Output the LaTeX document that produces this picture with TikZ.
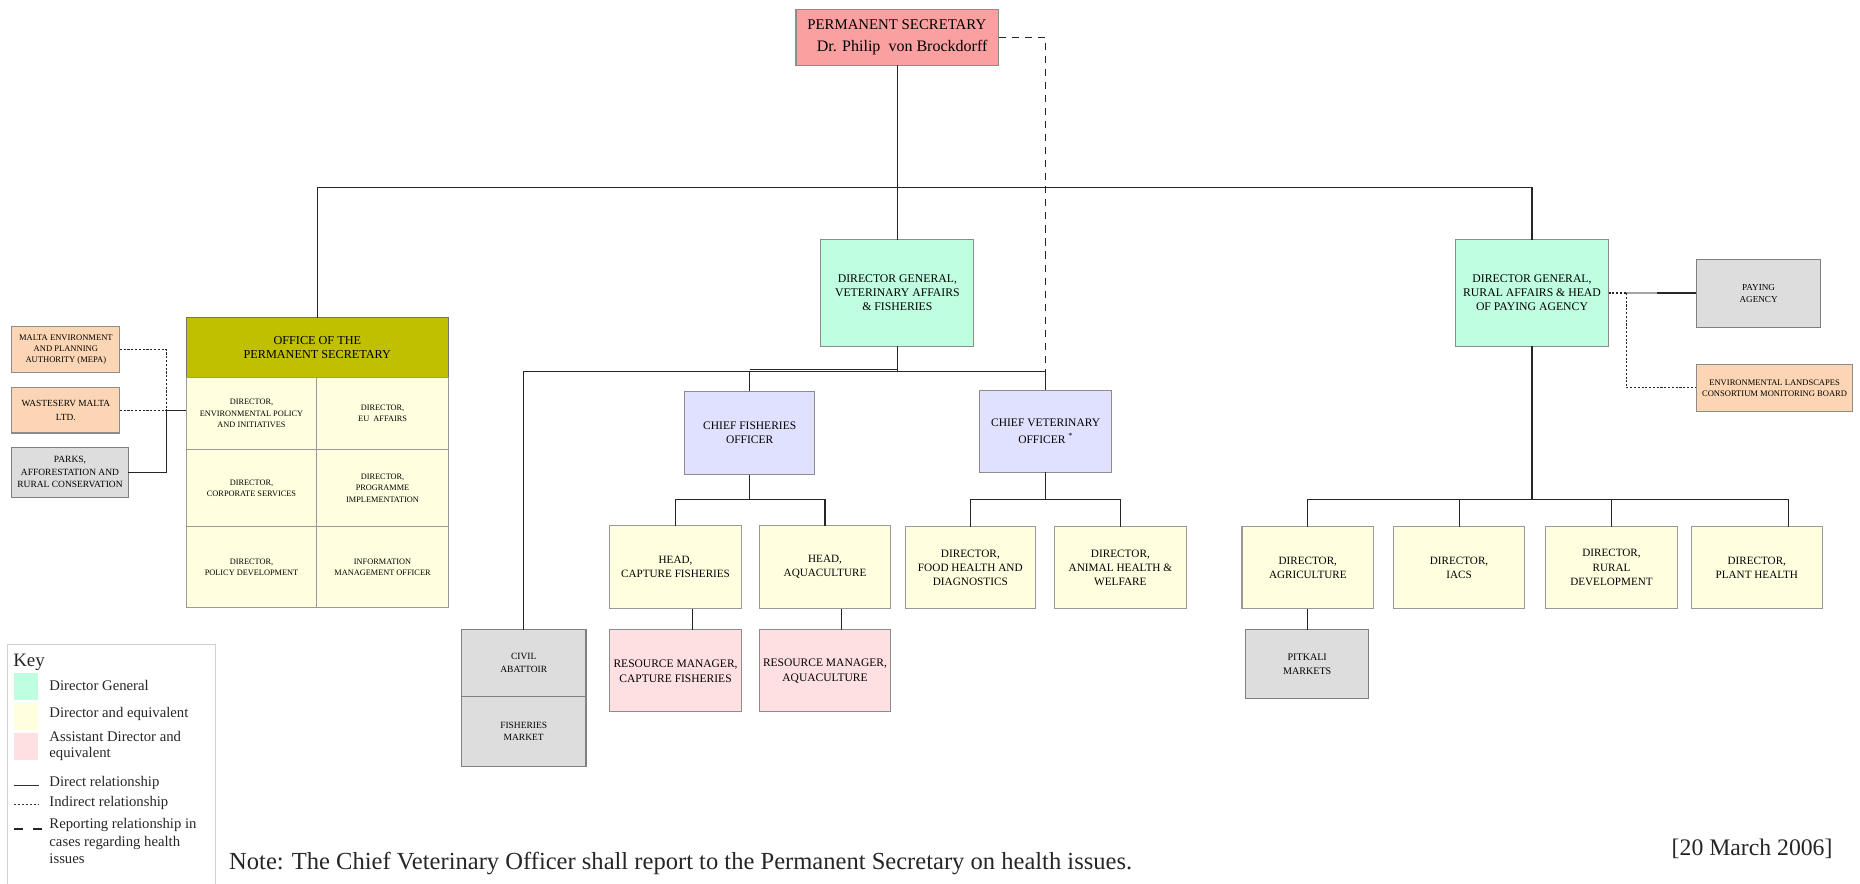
\documentclass[tikz,border=0pt]{standalone}
\usepackage{fontspec}
\setmainfont{Liberation Serif}
\definecolor{cps}{RGB}{251,160,160}
\definecolor{colive}{RGB}{192,192,0}
\definecolor{cmint}{RGB}{191,255,224}
\definecolor{clav}{RGB}{224,224,255}
\definecolor{ccream}{RGB}{255,255,224}
\definecolor{crm}{RGB}{255,224,226}
\definecolor{cpeach}{RGB}{252,214,180}
\definecolor{cgray}{RGB}{221,221,221}
\newcommand\fs[2]{\fontsize{#1}{#2}\selectfont}
\newcommand\bx[7]{\node[#2,minimum width={#5pt-#3pt},minimum height={#6pt-#4pt}] (#1) at (#3,#4) {#7};}
\begin{document}
\begin{tikzpicture}[x=1pt,y=-1pt,
  base/.style={anchor=north west,inner sep=0pt,outer sep=0pt,align=center,line width=0.9pt,draw=black!50,text=black},
  dg/.style={base,fill=cmint,draw=black!45,font=\fs{9.9}{11.7}},
  chief/.style={base,fill=clav,draw=black!45,font=\fs{9.7}{11.5}},
  dir/.style={base,fill=ccream,draw=black!40,font=\fs{9.5}{12}},
  rm/.style={base,fill=crm,draw=black!45,font=\fs{9.7}{12.7}},
  ext/.style={base,fill=cgray,draw=black!50,font=\fs{8}{10.5}},
  peach/.style={base,fill=cpeach,draw=black!45,font=\fs{7.2}{9.3}},
  cell/.style={base,fill=ccream,draw=black!40,font=\fs{7}{9.4}},
  ln/.style={line width=0.9pt,black!85},
  dot/.style={line width=0.9pt,black!85,dash pattern=on 1.8pt off 1.4pt},
  dsh/.style={line width=0.9pt,black!85,dash pattern=on 6pt off 5pt},
  keytxt/.style={anchor=west,inner sep=0pt,font=\fs{12.4}{14.5},align=left,text=black!85},
  swatch/.style={anchor=north west,inner sep=0pt,minimum width=20.5pt,minimum height=22.5pt}
]
\useasboundingbox (0,0) rectangle (1568,745);

% ---------- boxes ----------
\bx{ps}{base,fill=cps,draw=black!45,align=left,font=\fs{12.5}{19}}{671}{8}{842}{55}{PERMANENT SECRETARY\\\hspace*{8pt}{\fs{13.5}{19}Dr. Philip\ \ von Brockdorff}}

\bx{off}{base,fill=colive,draw=black!55,font=\fs{10.3}{12}}{157}{268}{378}{318}{OFFICE OF THE\\PERMANENT SECRETARY}
\bx{c11}{cell}{157}{318}{267}{379}{DIRECTOR,\\ENVIRONMENTAL POLICY\\AND INITIATIVES}
\bx{c12}{cell}{267}{318}{378}{379}{DIRECTOR,\\EU\ \ AFFAIRS}
\bx{c21}{cell}{157}{379}{267}{444}{DIRECTOR,\\CORPORATE SERVICES}
\bx{c22}{cell}{267}{379}{378}{444}{DIRECTOR,\\PROGRAMME\\IMPLEMENTATION}
\bx{c31}{cell}{157}{444}{267}{512}{DIRECTOR,\\POLICY DEVELOPMENT}
\bx{c32}{cell}{267}{444}{378}{512}{INFORMATION\\MANAGEMENT OFFICER}

\bx{mepa}{peach}{10}{275}{101}{314}{MALTA ENVIRONMENT\\AND PLANNING\\AUTHORITY (MEPA)}
\bx{wst}{peach,font=\fs{7.9}{11}}{10}{327}{101}{365}{WASTESERV MALTA\\LTD.}
\bx{parks}{ext}{10}{377}{108}{419}{PARKS,\\AFFORESTATION AND\\RURAL CONSERVATION}

\bx{dgv}{dg}{692}{202}{821}{292}{DIRECTOR GENERAL,\\VETERINARY AFFAIRS\\\& FISHERIES}
\bx{dgr}{dg}{1227}{202}{1356}{292}{DIRECTOR GENERAL,\\RURAL AFFAIRS \& HEAD\\OF PAYING AGENCY}

\bx{cfo}{chief}{577}{330}{687}{400}{CHIEF FISHERIES\\OFFICER}
\bx{cvo}{chief,font=\fs{9.7}{14}}{826}{329}{937}{398}{CHIEF VETERINARY\\OFFICER\ \textsuperscript{*}}

\bx{hcf}{dir,font=\fs{9.4}{11.7}}{514}{443}{625}{513}{HEAD,\\CAPTURE FISHERIES}
\bx{haq}{dir,font=\fs{9.4}{11.7}}{640}{443}{751}{513}{HEAD,\\AQUACULTURE}
\bx{rcf}{rm}{514}{531}{625}{600}{RESOURCE MANAGER,\\CAPTURE FISHERIES}
\bx{raq}{rm}{640}{531}{751}{600}{RESOURCE MANAGER,\\AQUACULTURE}

\bx{civ}{ext}{389}{531}{494}{587}{CIVIL\\ABATTOIR}
\bx{fmk}{ext}{389}{587}{494}{646}{FISHERIES\\MARKET}

\bx{fhd}{dir}{763}{444}{873}{513}{DIRECTOR,\\FOOD HEALTH AND\\DIAGNOSTICS}
\bx{ahw}{dir}{889}{444}{1000}{513}{DIRECTOR,\\ANIMAL HEALTH \&\\WELFARE}

\bx{pay}{ext,font=\fs{7.7}{10}}{1430}{219}{1535}{276}{PAYING\\AGENCY}
\bx{env}{peach}{1430}{307}{1562}{347}{ENVIRONMENTAL LANDSCAPES\\CONSORTIUM MONITORING BOARD}

\bx{agr}{dir,font=\fs{9.4}{12}}{1047}{444}{1158}{513}{DIRECTOR,\\AGRICULTURE}
\bx{iacs}{dir,font=\fs{9.4}{12}}{1175}{444}{1285}{513}{DIRECTOR,\\IACS}
\bx{rdv}{dir,font=\fs{9.4}{12}}{1303}{444}{1414}{513}{DIRECTOR,\\RURAL\\DEVELOPMENT}
\bx{phl}{dir,font=\fs{9.4}{12}}{1426}{444}{1536}{513}{DIRECTOR,\\PLANT HEALTH}
\bx{pit}{ext,font=\fs{8.5}{11.5}}{1050}{531}{1154}{589}{PITKALI\\MARKETS}

% ---------- junction coordinates ----------
\coordinate (j1) at (756.5,158);
\coordinate (j2) at (756.5,313);
\coordinate (j3) at (632,421);
\coordinate (j4) at (881.5,421);
\coordinate (j5) at (1291.5,421);
\coordinate (jl) at (140,346);
\coordinate (pj) at (1371,247);

% ---------- connectors ----------
\draw[ln] (ps.south) -- (j1);
\draw[ln] (off.north) -- (off.north |- j1) -- (dgr.north |- j1) -- (dgr.north);
\draw[ln] (j1) -- (dgv.north);
\draw[dsh] (ps.east) -| (cvo.north |- j2);

\draw[ln] (dgv.south) -- (j2);
\draw[ln] (civ.north) -- (civ.north |- j2) -- (cvo.north |- j2) -- (cvo.north);
\draw[ln] (cfo.north) -- (cfo.north |- j2);
\draw[ln] ([yshift=1.6pt]cfo.north |- j2) -- ([yshift=1.6pt]j2);

\draw[ln] (cfo.south) -- (j3);
\draw[ln] (hcf.north) -- (hcf.north |- j3) -- (haq.north |- j3) -- (haq.north);
\draw[ln] ([xshift=14pt]hcf.south) -- ([xshift=14pt]hcf.south |- rcf.north);
\draw[ln] ([xshift=14pt]haq.south) -- ([xshift=14pt]haq.south |- raq.north);

\draw[ln] (cvo.south) -- (j4);
\draw[ln] (fhd.north) -- (fhd.north |- j4) -- (ahw.north |- j4) -- (ahw.north);

\draw[ln] (dgr.south) -- (j5);
\draw[ln] (agr.north) -- (agr.north |- j5) -- ([xshift=27pt]phl.north |- j5) -- ([xshift=27pt]phl.north);
\draw[ln] (iacs.north) -- (iacs.north |- j5);
\draw[ln] (rdv.north) -- (rdv.north |- j5);
\draw[ln] (agr.south) -- (agr.south |- pit.north);

\draw[dot] (dgr.east) -- (pj);
\draw[ln,black!35] (pj) -- ++(26,0) coordinate (pk);
\draw[ln] (pk) -- (pk -| pay.west);
\draw[dot] (pj) |- (env.west);

\draw[dot] (mepa.east) -| (jl);
\draw[dot] (wst.east) -- (jl);
\draw[ln] (parks.east) -| (jl);
\draw[ln] (jl) -- (jl -| c11.west);

% ---------- key ----------
\node[anchor=north west,inner sep=0pt,minimum width=175pt,minimum height=230pt,draw=black!18,line width=0.9pt] (key) at (6,542.5) {};
\node[anchor=west,inner sep=0pt,font=\fs{16}{18},text=black!85] (keyt) at (11,558) {Key};
\node[swatch,fill=cmint] (sw1) at (11.5,567.5) {};
\node[swatch,fill=ccream] (sw2) at (11.5,592.5) {};
\node[swatch,fill=crm] (sw3) at (11.5,618) {};
\node[keytxt] (k1) at (41.5,577.5) {Director General};
\node[keytxt] (k2) at (41.5,602) {Director and equivalent};
\node[keytxt,font=\fs{12.4}{13.5}] (k3) at (41.5,628.5) {Assistant Director and\\equivalent};
\node[keytxt] (k4) at (41.5,660) {Direct relationship};
\node[keytxt] (k5) at (41.5,677) {Indirect relationship};
\node[keytxt,font=\fs{12.4}{14.7},anchor=north west] (k6) at (41.5,690) {Reporting relationship in\\cases regarding health\\issues};
\coordinate (l1a) at (12,662); \coordinate (l1b) at (33,662);
\coordinate (l2a) at (12,678); \coordinate (l2b) at (33,678);
\coordinate (l3a) at (12,699); \coordinate (l3b) at (35,699);
\draw[line width=0.7pt,black!80] (l1a) -- (l1b);
\draw[line width=0.8pt,black!80,dash pattern=on 1.6pt off 1.8pt] (l2a) -- (l2b);
\draw[line width=1.2pt,black!85,dash pattern=on 7pt off 9pt] (l3a) -- (l3b);

% ---------- notes ----------
\node[anchor=west,inner sep=0pt,font=\fs{20.7}{24},text=black!85] (note) at (193,728) {Note: The Chief Veterinary Officer shall report to the Permanent Secretary on health issues.};
\node[anchor=east,inner sep=0pt,font=\fs{20}{24},text=black!85] (date) at (1545,716) {[20 March 2006]};
\end{tikzpicture}
\end{document}
